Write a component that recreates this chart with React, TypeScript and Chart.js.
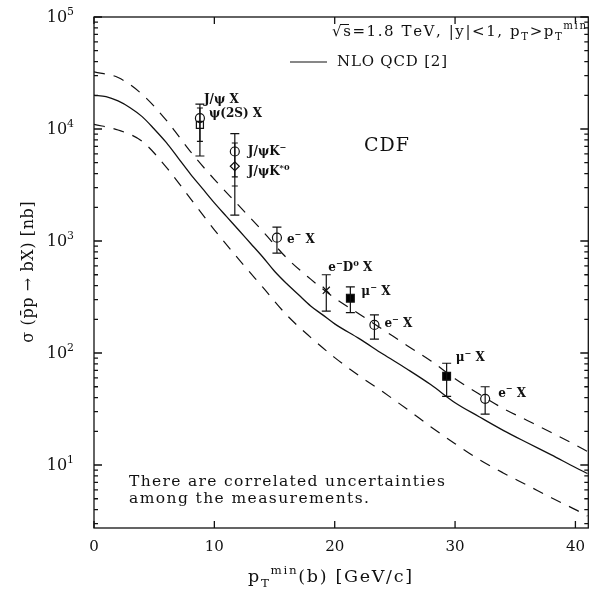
import React, { useEffect, useRef } from 'react';
import { Chart, registerables } from 'chart.js';

Chart.register(...registerables);

// ---------- data ----------
const curveX = [0, 1, 2, 3, 4, 5, 6, 7, 8, 9, 10, 11, 12, 13, 14, 15, 16, 17, 18, 19, 20, 22, 24, 26, 28, 30, 32, 34, 36, 38, 40, 41];
const nloCentral = [20000, 19500, 17800, 15500, 12900, 10000, 7590, 5500, 3980, 2950, 2190, 1660, 1260, 955, 724, 537, 417, 331, 263, 219, 182, 135, 98, 72, 52, 36, 27, 20.4, 15.8, 12.3, 9.5, 8.4];

const bandX = [0, 2, 4, 6, 8, 10, 12, 14, 16, 18, 20, 22, 24, 26, 28, 30, 32, 34, 36, 38, 40, 41];
const nloUpper = [32400, 28800, 20400, 12000, 6310, 3550, 2090, 1230, 708, 457, 309, 224, 162, 117, 85, 59, 43, 32, 25, 19.5, 15.1, 13.2];
const nloLower = [11000, 9800, 7760, 4570, 2400, 1260, 692, 389, 219, 138, 91, 63, 45, 31.6, 21.9, 15.5, 11.2, 8.5, 6.6, 5.1, 4.0, 3.5];

const measNames = ['J/ψ X', 'ψ(2S) X', 'J/ψK^−', 'J/ψK^{*0}', 'e^− X', 'e^−D^0 X', 'μ^− X', 'e^− X', 'μ^− X', 'e^− X'];
const measX = [8.8, 8.8, 11.7, 11.7, 15.2, 19.3, 21.3, 23.3, 29.3, 32.5];
const measY = [12500, 10900, 6300, 4650, 1070, 363, 309, 178, 62, 39];
const measLow = [5740, 7740, 3740, 1700, 780, 237, 229, 133, 41, 28.5];
const measHigh = [16700, 15400, 7500, 9100, 1330, 500, 390, 219, 81, 50];
const measExtraTicks: number[][] = [[], [], [3100], [], [], [], [], [], [], []];

const xTickValues = [0, 10, 20, 30, 40];
const yDecades = [1, 2, 3, 4, 5];

const headerText = '√s=1.8 TeV, |y|<1, p_T>p_T^{min}';
const legendText = 'NLO QCD [2]';
const experimentText = 'CDF';
const noteLines = ['There are correlated uncertainties', 'among the measurements.'];
const xTitle = 'p_T^{min}(b) [GeV/c]';
const yTitle = 'σ (p̄p → bX) [nb]';

// ---------- styles ----------
const markerStyle = ['circle', 'rect', 'circle', 'rectRot', 'circle', 'crossRot', 'rect', 'circle', 'rect', 'circle'];
const markerFill = ['rgba(0,0,0,0)', 'rgba(0,0,0,0)', 'rgba(0,0,0,0)', 'rgba(0,0,0,0)', 'rgba(0,0,0,0)', 'rgba(0,0,0,0)', '#000', 'rgba(0,0,0,0)', '#000', 'rgba(0,0,0,0)'];
const markerRadius = [4.5, 5, 4.5, 4.5, 4.5, 5, 5.5, 4.5, 5.5, 4.5];
const capHalf = [4.5, 3, 3, 4.5, 4.5, 4.5, 4.5, 4.5, 4.5, 4.5];
const labelOffset: [number, number][] = [[4, -15], [9, -8], [13, 4], [13, 9], [10, 5], [2, -19], [11, -3], [10, 2], [9, -15], [13, -2]];

const SERIF = '"DejaVu Serif", "Liberation Serif", serif';
const INK = '#111';

type Seg = { t: string; s: 0 | 1 | -1 };
function parseRich(str: string): Seg[] {
  const out: Seg[] = [];
  let buf = '';
  let i = 0;
  const flush = () => { if (buf) { out.push({ t: buf, s: 0 }); buf = ''; } };
  while (i < str.length) {
    const c = str[i];
    if (c === '^' || c === '_') {
      flush();
      const s = c === '^' ? 1 : -1;
      i++;
      let t = '';
      if (str[i] === '{') {
        i++;
        while (i < str.length && str[i] !== '}') { t += str[i]; i++; }
        i++;
      } else { t = str[i]; i++; }
      out.push({ t, s: s as 1 | -1 });
    } else { buf += c; i++; }
  }
  flush();
  return out;
}

function chars(t: string): string[] {
  const out: string[] = [];
  for (const ch of Array.from(t)) {
    if (/[\u0300-\u036f]/.test(ch) && out.length) out[out.length - 1] += ch;
    else out.push(ch);
  }
  return out;
}

function fontFor(weight: string, sz: number) {
  return `${weight} ${Math.round(sz * 10) / 10}px ${SERIF}`;
}

function richWidth(ctx: CanvasRenderingContext2D, segs: Seg[], size: number, weight: string, spacing: number) {
  let w = 0;
  for (const sg of segs) {
    const sz = sg.s === 0 ? size : size * 0.68;
    ctx.font = fontFor(weight, sz);
    for (const ch of chars(sg.t)) w += ctx.measureText(ch).width + spacing;
  }
  return w - spacing;
}

function drawRich(ctx: CanvasRenderingContext2D, str: string, x: number, y: number, size: number, opts: { weight?: string; width?: number; spacing?: number; align?: 'left' | 'center' | 'right' } = {}) {
  const segs = parseRich(str);
  const weight = opts.weight || 'normal';
  let spacing = opts.spacing ?? 0;
  const nChars = segs.reduce((a, s) => a + chars(s.t).length, 0);
  if (opts.width) {
    const natural = richWidth(ctx, segs, size, weight, 0);
    spacing = (opts.width - natural) / Math.max(1, nChars - 1);
  }
  const total = richWidth(ctx, segs, size, weight, spacing);
  let cx = x;
  if (opts.align === 'center') cx = x - total / 2;
  if (opts.align === 'right') cx = x - total;
  ctx.textBaseline = 'alphabetic';
  ctx.textAlign = 'left';
  ctx.fillStyle = INK;
  for (const sg of segs) {
    const sz = sg.s === 0 ? size : size * 0.68;
    const dy = sg.s === 1 ? -size * 0.45 : sg.s === -1 ? size * 0.28 : 0;
    ctx.font = fontFor(weight, sz);
    for (const ch of chars(sg.t)) {
      ctx.fillText(ch, cx, y + dy);
      cx += ctx.measureText(ch).width + spacing;
    }
  }
}

const errorBarPlugin = {
  id: 'errorBars',
  afterDatasetsDraw(chart: any) {
    const { ctx, scales } = chart;
    const xs = scales.x, ys = scales.y;
    ctx.save();
    ctx.strokeStyle = INK;
    ctx.lineWidth = 1.2;
    for (let i = 0; i < measX.length; i++) {
      const px = xs.getPixelForValue(measX[i]);
      const lo = ys.getPixelForValue(measLow[i]);
      const hi = ys.getPixelForValue(measHigh[i]);
      ctx.beginPath();
      ctx.moveTo(px, lo); ctx.lineTo(px, hi);
      ctx.moveTo(px - capHalf[i], lo); ctx.lineTo(px + capHalf[i], lo);
      ctx.moveTo(px - capHalf[i], hi); ctx.lineTo(px + capHalf[i], hi);
      for (const t of measExtraTicks[i]) {
        const ty = ys.getPixelForValue(t);
        ctx.moveTo(px - 3, ty); ctx.lineTo(px + 3, ty);
      }
      ctx.stroke();
      const py = ys.getPixelForValue(measY[i]);
      drawRich(ctx, measNames[i], px + labelOffset[i][0], py + labelOffset[i][1], 12, { weight: 'bold' });
    }
    ctx.restore();
  },
};

const framePlugin = {
  id: 'frame',
  afterDraw(chart: any) {
    const { ctx, chartArea: a, scales } = chart;
    const xs = scales.x, ys = scales.y;
    ctx.save();
    ctx.strokeStyle = INK;
    ctx.lineWidth = 1.3;
    ctx.strokeRect(a.left, a.top, a.right - a.left, a.bottom - a.top);
    ctx.beginPath();
    for (const v of xTickValues) {
      const px = xs.getPixelForValue(v);
      ctx.moveTo(px, a.bottom); ctx.lineTo(px, a.bottom - 7);
      ctx.moveTo(px, a.top); ctx.lineTo(px, a.top + 7);
    }
    for (let d = 0; d <= 5; d++) {
      for (let m = 1; m <= 9; m++) {
        const v = m * Math.pow(10, d);
        if (v < ys.min || v > ys.max) continue;
        const py = ys.getPixelForValue(v);
        const len = m === 1 ? 8 : 4;
        ctx.moveTo(a.left, py); ctx.lineTo(a.left + len, py);
        ctx.moveTo(a.right, py); ctx.lineTo(a.right - len, py);
      }
    }
    ctx.stroke();
    for (const v of xTickValues) {
      drawRich(ctx, String(v), xs.getPixelForValue(v), a.bottom + 23, 15, { align: 'center' });
    }
    for (const d of yDecades) {
      drawRich(ctx, '10^' + d, 74, ys.getPixelForValue(Math.pow(10, d)) + 5, 16, { align: 'right' });
    }
    // header right-aligned so it stays inside the frame
    drawRich(ctx, headerText, 586, 36, 15, { width: 254, align: 'right' });
    ctx.beginPath();
    ctx.lineWidth = 1;
    ctx.moveTo(340, 24.5); ctx.lineTo(349, 24.5);
    ctx.stroke();
    ctx.beginPath();
    ctx.lineWidth = 1.2;
    ctx.moveTo(290, 62); ctx.lineTo(327, 62);
    ctx.stroke();
    drawRich(ctx, legendText, 337, 66, 15, { width: 110 });
    drawRich(ctx, experimentText, 364, 151, 19, { width: 45 });
    drawRich(ctx, noteLines[0], 129, 486, 15.5, { width: 316 });
    drawRich(ctx, noteLines[1], 129, 503, 15.5, { width: 240 });
    drawRich(ctx, xTitle, 248, 582, 17.5, { width: 164 });
    ctx.translate(33, 272);
    ctx.rotate(-Math.PI / 2);
    drawRich(ctx, yTitle, 0, 0, 16, { align: 'center', spacing: 0.6 });
    ctx.restore();
  },
};

export default function App() {
  const ref = useRef<HTMLCanvasElement>(null);
  useEffect(() => {
    document.body.style.margin = '0';
    const chart = new Chart(ref.current as HTMLCanvasElement, {
      type: 'scatter',
      data: {
        datasets: [
          {
            type: 'line',
            data: curveX.map((x, i) => ({ x, y: nloCentral[i] })),
            borderColor: INK, borderWidth: 1.3, pointRadius: 0, cubicInterpolationMode: 'monotone', fill: false,
          } as any,
          {
            type: 'line',
            data: bandX.map((x, i) => ({ x, y: nloUpper[i] })),
            borderColor: INK, borderWidth: 1.2, borderDash: [11, 9], pointRadius: 0, cubicInterpolationMode: 'monotone', fill: false,
          } as any,
          {
            type: 'line',
            data: bandX.map((x, i) => ({ x, y: nloLower[i] })),
            borderColor: INK, borderWidth: 1.2, borderDash: [11, 9], pointRadius: 0, cubicInterpolationMode: 'monotone', fill: false,
          } as any,
          {
            type: 'scatter',
            data: measX.map((x, i) => ({ x, y: measY[i] })),
            pointStyle: markerStyle as any,
            pointRadius: markerRadius,
            pointBackgroundColor: markerFill,
            pointBorderColor: INK,
            pointBorderWidth: 1.2,
          } as any,
        ],
      },
      options: {
        responsive: false,
        animation: false,
        devicePixelRatio: 1,
        layout: { padding: { left: 94, top: 17, right: 4, bottom: 64 } },
        plugins: { legend: { display: false }, tooltip: { enabled: false } },
        scales: {
          x: { type: 'linear', min: 0, max: 41.07, display: false },
          y: { type: 'logarithmic', min: 2.74, max: 100000, display: false },
        },
      },
      plugins: [errorBarPlugin, framePlugin],
    });
    return () => chart.destroy();
  }, []);
  return (
    <div style={{ width: 595, height: 592, background: '#fff' }}>
      <canvas ref={ref} width={595} height={592} style={{ display: 'block' }} />
    </div>
  );
}
